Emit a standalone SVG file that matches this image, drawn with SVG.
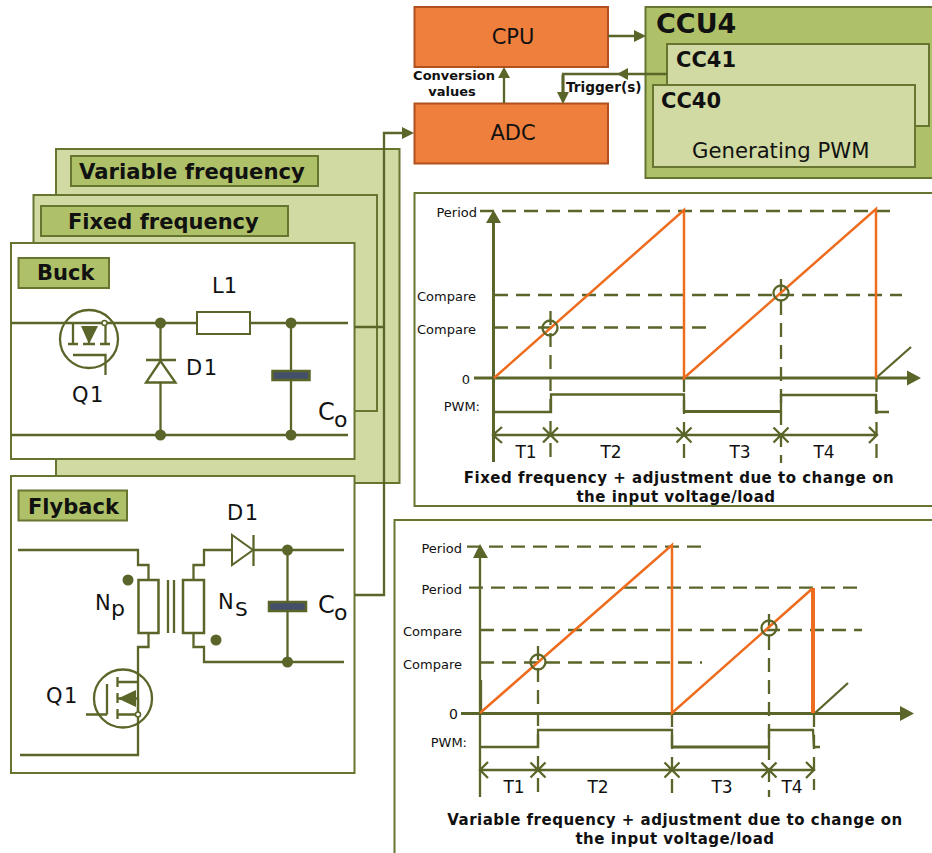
<svg xmlns="http://www.w3.org/2000/svg" width="932" height="853" viewBox="0 0 932 853">
<style>
text{font-family:"DejaVu Sans","Liberation Sans",sans-serif;fill:#111}
.b{font-weight:bold}
.w{fill:none;stroke:#5a6629;stroke-width:2.300}
.w3{fill:none;stroke:#5a6629;stroke-width:3}
.f{fill:#5a6629;stroke:none}
.p{fill:#d0daa2;stroke:#66752f;stroke-width:2}
.l{fill:#afc168;stroke:#66752f;stroke-width:2}
.wp{fill:#fff;stroke:#66752f;stroke-width:2}
.o{fill:#ef7f3c;stroke:#b0501f;stroke-width:2}
.cap{fill:#44506a;stroke:#5a6629;stroke-width:2.500}
.d{fill:none;stroke:#5a6629;stroke-width:2.300;stroke-dasharray:14 8}
.r{fill:none;stroke:#ee6c1e;stroke-width:2.500}
.s13{font-size:13px}.s16{font-size:17px}.s21{font-size:21px}.t{font-size:15px;font-weight:bold;text-anchor:middle;letter-spacing:.5px}
.e{text-anchor:end}.m{text-anchor:middle}
</style>
<g id="panel-variable"><rect class="p" x="56" y="149" width="343.500" height="334"/><rect class="l" x="71" y="156" width="247" height="30"/><text class="b" x="79" y="179" font-size="21.200">Variable frequency</text></g>
<g id="panel-fixed"><rect class="p" x="33.500" y="195" width="343.500" height="216"/><rect class="l" x="41" y="206" width="247" height="30"/><text class="b" x="68" y="229" font-size="21">Fixed frequency</text></g>
<g id="buck">
<rect class="wp" x="11" y="243" width="343.500" height="216"/><rect class="l" x="18.500" y="258" width="90.500" height="30"/><text class="b" x="37" y="280" font-size="21">Buck</text>
<path class="w" d="M11 323H197M250 323H348M11 435H348M160.500 323V360M160.500 382V435M291 323V435"/>
<rect x="197" y="312" width="53" height="22" fill="#fff" stroke="#5a6629" stroke-width="2"/>
<circle class="f" cx="160.500" cy="323" r="5.500"/><circle class="f" cx="291" cy="323" r="5.500"/><circle class="f" cx="160.500" cy="435" r="5.500"/><circle class="f" cx="291" cy="435" r="5.500"/>
<path class="w" d="M146 360H176M160.500 361L146 382.500H175.500Z"/>
<rect class="cap" x="272.500" y="371" width="37" height="9"/>
<circle class="w" cx="89" cy="339" r="29"/>
<path class="w" d="M73 323V344M105.500 323V344M68 344H78M83 344H95M100 344H110M89 344V330M73 355H105.500V375"/>
<path class="f" d="M89 344L81 326H98Z"/><circle cx="104.500" cy="323" r="2.500" fill="#fff" stroke="#5a6629" stroke-width="1.500"/>
<text class="s21" x="212" y="293">L1</text><text class="s21" x="186" y="375" letter-spacing="1.500">D1</text><text class="s21" x="72" y="402" letter-spacing="1.500">Q1</text>
<text x="318" y="420" font-size="24">C</text><text x="334" y="427" font-size="22">o</text>
</g>
<g id="flyback">
<rect class="wp" x="11" y="476" width="343.500" height="297"/><rect class="l" x="18.500" y="490.500" width="108.500" height="30"/><text class="b" x="28" y="514" font-size="21">Flyback</text>
<path class="w" d="M18 550H138V565H148.500V580M148.500 633V647H138V755H20M193.500 580V565H204V550H232M253 550H344M193.500 633V647H204V662H344M287.500 550V662"/>
<rect x="138.500" y="580" width="20" height="53" fill="#fff" stroke="#5a6629" stroke-width="2.500"/>
<rect x="183" y="580" width="21" height="53" fill="#fff" stroke="#5a6629" stroke-width="2.500"/>
<path class="w" d="M168 580V633M174 580V633"/>
<circle class="f" cx="128" cy="580" r="5.500"/><circle class="f" cx="216" cy="640" r="5.500"/><circle class="f" cx="287.500" cy="550" r="5.500"/><circle class="f" cx="287.500" cy="662" r="5.500"/>
<path fill="#fff" stroke="#5a6629" stroke-width="2" d="M232 535V565L253 550Z"/><path class="w" d="M253.500 535V566"/>
<rect class="cap" x="269" y="602" width="37" height="9"/>
<circle class="w" cx="123" cy="698.500" r="29"/>
<path class="w" d="M107 684V714.500M86 714.500H107M117.500 677V687M117.500 693V703M117.500 709V719M117.500 682H138M117.500 698.500H138V714.500M117.500 714.500H138"/>
<path class="f" d="M118 698.500L136 690V707Z"/><circle cx="138" cy="714.500" r="2.500" fill="#fff" stroke="#5a6629" stroke-width="1.500"/>
<text class="s21" x="95" y="610">N</text><text x="111" y="616" font-size="22">p</text><text class="s21" x="218" y="609">N</text><text x="235" y="616" font-size="20">S</text>
<text x="318" y="613" font-size="24">C</text><text x="334" y="620" font-size="22">o</text>
<text class="s21" x="227" y="520" letter-spacing="1.500">D1</text><text class="s21" x="46" y="703" letter-spacing="1.500">Q1</text>
</g>
<g id="cpu"><rect class="o" x="414.500" y="7" width="193.500" height="60"/><text class="m" x="513" y="44" font-size="21">CPU</text></g>
<g id="adc"><rect class="o" x="414.500" y="103.500" width="193.500" height="60"/><text class="m" x="513" y="140" font-size="21">ADC</text></g>
<g id="ccu4"><rect x="645.500" y="7" width="290" height="171" fill="#afc168" stroke="#66752f" stroke-width="2"/><text class="b" x="656" y="33" font-size="27">CCU4</text></g>
<g id="cc41"><rect class="p" x="667" y="44" width="262" height="82"/><text class="b" x="676" y="67" font-size="21">CC41</text></g>
<g id="cc40"><rect class="p" x="653" y="85" width="262" height="82"/><text class="b" x="661" y="108" font-size="21">CC40</text><text x="692" y="158" font-size="21.200">Generating PWM</text></g>
<g id="connectors">
<path class="w" d="M354.500 327H384M354.500 595H384V133H404M608 36H636M504 103V76M667 74H563V94"/>
<path class="f" d="M414 133L402 127V139ZM646 36L634 30V42ZM504 67L498 78H510ZM617 74L628 68V80ZM563 104L557 92H569Z"/>
<path class="w3" d="M563 75V95"/>
</g>
<text class="b s13" x="454" y="80" text-anchor="middle">Conversion</text><text class="b s13" x="452" y="96" text-anchor="middle">values</text><text class="b" font-size="13.700" x="566" y="92">Trigger(s)</text>
<g id="chart-fixed">
<path class="wp" d="M932 193H414.500V506H932" />
<path class="d" d="M480 211H893M494 295H902M494 327.500H714M550.500 311V463M684 378V463M781 279V463M876.500 378V463"/>
<path class="w3" d="M493.500 462V222M474 378H908"/><path class="f" d="M493.500 210L486 223H501ZM921 378L907 370.500V385.500Z"/>
<path class="w" d="M876 378L911 347"/>
<path class="r" d="M494 378L684 210V378L876 209V378"/>
<path class="w" d="M494 412H551V394.500H684V412"/><path class="w3" d="M684 411.500H781"/><path class="w" d="M781 412V395H876V412H889"/>
<circle class="w" cx="550" cy="328" r="7.500"/><circle class="w" cx="781" cy="293" r="7.500"/>
<path class="w" d="M492 435H877M502 427L493 435L502 443M543 427.500L558 442.500M558 427.500L543 442.500M676.500 427.500L691.500 442.500M691.500 427.500L676.500 442.500M773.500 427.500L788.500 442.500M788.500 427.500L773.500 442.500M869 427L877 435L869 443"/>
<text class="s13 e" x="477" y="217">Period</text><text class="s13 e" x="476" y="301">Compare</text><text class="s13 e" x="476" y="334">Compare</text><text class="s13 e" x="470" y="384" font-size="14">0</text><text class="s13 e" x="480" y="411">PWM:</text>
<text class="s16 m" x="526" y="458">T1</text><text class="s16 m" x="611" y="458">T2</text><text class="s16 m" x="740" y="458">T3</text><text class="s16 m" x="824" y="458">T4</text>
<text class="t" x="679" y="483">Fixed frequency + adjustment due to change on</text><text class="t" x="676" y="502">the input voltage/load</text>
</g>
<g id="chart-variable">
<path class="wp" d="M932 520H394.500V853" />
<path class="d" d="M467 546.700H705M469 587.700H862M480 630H862M480 662.500H702M538 646V797M672 713V797M769 614V797M814 713V790"/>
<path class="w" d="M480 797V557M481 680V713"/><path class="w3" d="M461 713.500H901"/><path class="f" d="M480 544L473 558H488ZM914 713.500L900 706V721Z"/>
<path class="w" d="M815 713L848 683"/>
<path class="r" stroke-width="3" d="M480 713L672 545V713L813 588"/><path fill="none" stroke="#ee6c1e" stroke-width="4" d="M813 588V713"/>
<path class="w" d="M480 747H538V730H672V747"/><path class="w3" d="M672 747H769"/><path class="w" d="M769 747V730H813L814 747H820"/>
<circle class="w" cx="538" cy="662" r="7.500"/><circle class="w" cx="769" cy="628" r="7.500"/>
<path class="w" d="M480 770H814M488 762L480 770L488 778M530.500 762.500L545.500 777.500M545.500 762.500L530.500 777.500M664.500 762.500L679.500 777.500M679.500 762.500L664.500 777.500M761.500 762.500L776.500 777.500M776.500 762.500L761.500 777.500M806 762L814 770L806 778"/>
<text class="s13 e" x="462" y="553">Period</text><text class="s13 e" x="462" y="594">Period</text><text class="s13 e" x="462" y="636">Compare</text><text class="s13 e" x="462" y="669">Compare</text><text class="e" font-size="14" x="458" y="719">0</text><text class="s13 e" x="467" y="747">PWM:</text>
<text class="s16 m" x="514" y="793">T1</text><text class="s16 m" x="598" y="793">T2</text><text class="s16 m" x="722" y="793">T3</text><text class="s16 m" x="792" y="793">T4</text>
<text class="t" x="675" y="825">Variable frequency + adjustment due to change on</text><text class="t" x="675" y="844">the input voltage/load</text>
</g>
</svg>
